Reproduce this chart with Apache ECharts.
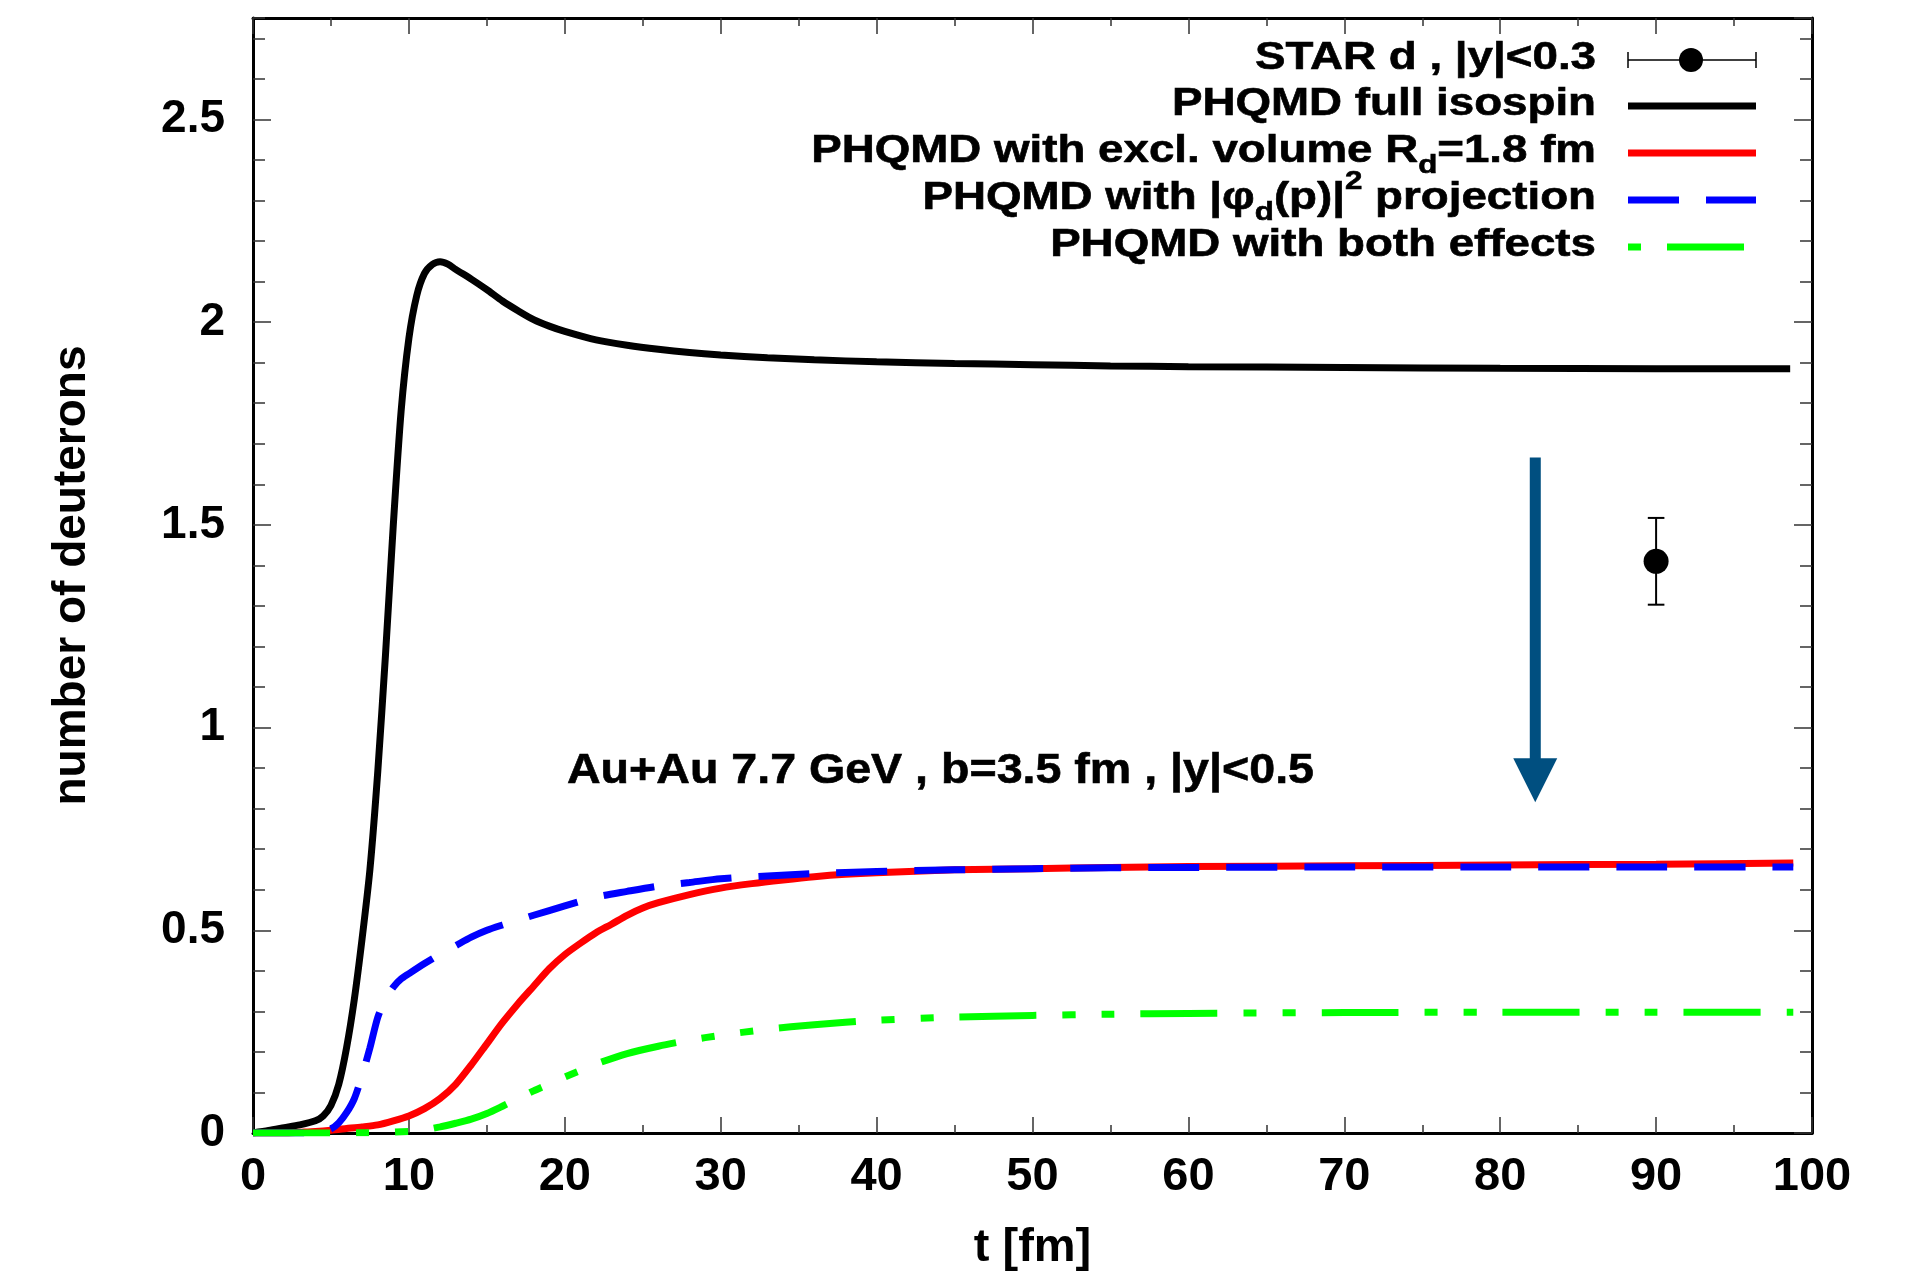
<!DOCTYPE html>
<html><head><meta charset="utf-8">
<script src="https://cdn.jsdelivr.net/npm/echarts@6/dist/echarts.min.js"></script>
<style>html,body{margin:0;padding:0;background:#fff}#c{width:1916px;height:1277px}</style>
</head><body><div id="c"></div>
<script>
const FONT = '"Liberation Sans", Arial, Helvetica, sans-serif';

// ---- data (t in fm, number of deuterons) ----
const seriesNames = ['STAR d , |y|<0.3', 'PHQMD full isospin', 'PHQMD with excl. volume R_d=1.8 fm', 'PHQMD with |φ_d(p)|^2 projection', 'PHQMD with both effects'];

const tFull = [0,1,2,3,4,4.5,5,5.5,6,6.5,7,7.5,8,8.5,9,9.5,10,10.5,11,11.5,12,12.5,13,14,15,16,17,18,19,20,22,24,26,28,30,33,36,40,45,50,55,60,70,80,90,98.6];
const vFull = [0,0.006,0.013,0.02,0.03,0.042,0.068,0.12,0.21,0.33,0.48,0.65,0.89,1.18,1.5,1.78,1.96,2.065,2.12,2.142,2.149,2.143,2.13,2.106,2.08,2.052,2.028,2.006,1.99,1.977,1.956,1.943,1.933,1.925,1.919,1.912,1.907,1.902,1.898,1.895,1.892,1.89,1.888,1.886,1.885,1.885];

const tExcl = [0,2,3,4,5,6,7,8,9,10,11,12,13,14,15,16,17,18,19,20,21,22,23,24,25,26,28,30,32,34,36,38,40,45,50,55,60,70,80,90,98.8];
const vExcl = [0,0,0.002,0.004,0.007,0.011,0.015,0.02,0.03,0.042,0.06,0.085,0.12,0.168,0.22,0.272,0.319,0.362,0.405,0.44,0.468,0.494,0.515,0.537,0.555,0.568,0.588,0.604,0.615,0.624,0.632,0.638,0.642,0.649,0.652,0.655,0.657,0.659,0.661,0.663,0.666];

const tProj = [0,1,2,3,4,4.5,5,5.5,6,6.5,7,7.5,8,8.5,9,9.5,10,11,12,13,14,15,16,17,18,20,22,24,26,28,30,33,36,40,45,50,55,60,70,80,90,98.8];
const vProj = [0,0,0,0,0.002,0.005,0.01,0.025,0.05,0.085,0.142,0.21,0.285,0.33,0.36,0.38,0.393,0.418,0.441,0.462,0.483,0.5,0.513,0.525,0.537,0.56,0.582,0.596,0.609,0.618,0.627,0.634,0.64,0.645,0.649,0.652,0.654,0.655,0.656,0.656,0.656,0.656];

const tBoth = [0,5,8,10,11,12,13,14,15,16,17,18,19,20,22,24,26,28,30,33,36,40,45,50,55,60,70,80,90,98.8];
const vBoth = [0,0,0.001,0.004,0.008,0.015,0.024,0.034,0.048,0.066,0.085,0.104,0.121,0.138,0.17,0.196,0.214,0.229,0.241,0.256,0.267,0.278,0.286,0.29,0.293,0.295,0.297,0.298,0.298,0.298];

const starT = [90];
const starV = [1.41];
const starErrLow = [1.303];
const starErrHigh = [1.517];

const annotText = 'Au+Au 7.7 GeV , b=3.5 fm , |y|<0.5';
const annotAt = [20.14, 0.892];
const arrowT = [82.25];
const arrowFrom = [1.666];
const arrowTo = [0.816];

const xMin = 0, xMax = 100, xStep = 10;
const yMin = 0, yMax = 2.75, yStep = 0.5, yMinorStep = 0.1;

function pairs(t, v) { return t.map((x, i) => [x, v[i]]); }

// ---- text measuring for legend ----
const mctx = document.createElement('canvas').getContext('2d');
function measure(text, size) { mctx.font = 'bold ' + size + 'px ' + FONT; return mctx.measureText(text).width; }

const LEG_RIGHT = 1596, LEG_FS = 38, SUB_FS = 26;
const LEG_SX = 424 / measure('PHQMD full isospin', LEG_FS);
const ANN_FS = 42;
const ANN_SX = 747 / measure(annotText, ANN_FS);
const LEG_X1 = 1628, LEG_X2 = 1756;
const legendRows = [
  { y: 60, segs: [[seriesNames[0], 'n']], kind: 'star' },
  { y: 106, segs: [['PHQMD full isospin', 'n']], color: '#000000', dash: null },
  { y: 153, segs: [['PHQMD with excl. volume R', 'n'], ['d', 'sub'], ['=1.8 fm', 'n']], color: '#ff0000', dash: null },
  { y: 200, segs: [['PHQMD with |φ', 'n'], ['d', 'sub'], ['(p)|', 'n'], ['2', 'sup'], [' projection', 'n']], color: '#0000ff', dash: [51, 27] },
  { y: 247, segs: [['PHQMD with both effects', 'n']], color: '#00ff00', dash: [13, 26, 77, 26], x2: 1744 }
];

function buildLegend() {
  const els = [];
  legendRows.forEach(row => {
    const widths = row.segs.map(s => measure(s[0], s[1] === 'n' ? LEG_FS : SUB_FS) * LEG_SX);
    let x = LEG_RIGHT - widths.reduce((a, b) => a + b, 0);
    const cy = row.y - 1;
    row.segs.forEach((s, i) => {
      const fs = s[1] === 'n' ? LEG_FS : SUB_FS;
      const dy = s[1] === 'sub' ? 14.2 : (s[1] === 'sup' ? -16.8 : 0);
      els.push({
        type: 'text', x: x, y: cy + dy, scaleX: LEG_SX, z: 100,
        style: { text: s[0], font: 'bold ' + fs + 'px ' + FONT, fill: '#000', stroke: '#000', lineWidth: 0.6,
          textAlign: 'left', align: 'left', textVerticalAlign: 'middle', verticalAlign: 'middle' }
      });
      x += widths[i];
    });
    if (row.kind === 'star') {
      els.push({ type: 'line', z: 100, shape: { x1: LEG_X1, y1: row.y, x2: LEG_X2, y2: row.y }, style: { stroke: '#000', lineWidth: 1.5 } });
      els.push({ type: 'line', z: 100, shape: { x1: LEG_X1, y1: row.y - 8, x2: LEG_X1, y2: row.y + 8 }, style: { stroke: '#000', lineWidth: 1.5 } });
      els.push({ type: 'line', z: 100, shape: { x1: LEG_X2, y1: row.y - 8, x2: LEG_X2, y2: row.y + 8 }, style: { stroke: '#000', lineWidth: 1.5 } });
      els.push({ type: 'circle', z: 101, shape: { cx: 1691, cy: row.y, r: 12 }, style: { fill: '#000' } });
    } else {
      els.push({ type: 'line', z: 100, shape: { x1: LEG_X1, y1: row.y, x2: row.x2 || LEG_X2, y2: row.y },
        style: { stroke: row.color, lineWidth: 7, lineDash: row.dash || null, lineCap: 'butt' } });
    }
  });
  return els;
}

const tickStyle = { color: '#333', width: 1.5 };
const labelFont = { fontFamily: FONT, fontWeight: 'bold', color: '#000' };

function yAx(pos, interval, len, labels, line) {
  return {
    type: 'value', position: pos, min: yMin, max: yMax, interval: interval,
    axisLine: { show: line, onZero: false, lineStyle: { color: '#000', width: 3 } },
    axisTick: { show: true, inside: true, length: len, lineStyle: tickStyle },
    splitLine: { show: false },
    axisLabel: labels ? Object.assign({ show: true, fontSize: 46, margin: 28, showMaxLabel: false,
      formatter: v => (Math.abs(v / yStep - Math.round(v / yStep)) < 1e-6 ? String(+v.toFixed(2)) : '') }, labelFont) : { show: false }
  };
}
function xAx(pos, labels) {
  return {
    type: 'value', position: pos, min: xMin, max: xMax, interval: xStep,
    axisLine: { show: true, onZero: false, lineStyle: { color: '#000', width: 3 } },
    axisTick: { show: true, inside: true, length: 16, lineStyle: tickStyle },
    minorTick: { show: true, splitNumber: 2, length: 8, lineStyle: tickStyle },
    splitLine: { show: false },
    axisLabel: labels ? Object.assign({ show: true, fontSize: 47, margin: 21 }, labelFont) : { show: false }
  };
}

const chart = echarts.init(document.getElementById('c'), null, { renderer: 'canvas' });
const xA0 = xAx('bottom', true);
xA0.name = 't [fm]'; xA0.nameLocation = 'middle'; xA0.nameGap = 92;
xA0.nameTextStyle = { fontSize: 47, fontWeight: 'bold', fontFamily: FONT, color: '#000' };
const yA0 = yAx('left', yStep, 18, true, true);
yA0.name = 'number of deuterons'; yA0.nameLocation = 'middle'; yA0.nameGap = 158; yA0.nameRotate = 90;
yA0.nameTextStyle = { fontSize: 46, fontWeight: 'bold', fontFamily: FONT, color: '#000' };

const lineBase = { type: 'line', showSymbol: false, symbol: 'none', smooth: 0.25, xAxisIndex: 0, yAxisIndex: 0, animation: false };

chart.setOption({
  animation: false,
  backgroundColor: '#ffffff',
  grid: { left: 253, right: 104, top: 18, bottom: 143, containLabel: false },
  xAxis: [xA0, xAx('top', false)],
  yAxis: [yA0, yAx('left', yMinorStep, 12, false, false), yAx('right', yStep, 18, false, true), yAx('right', yMinorStep, 12, false, false)],
  series: [
    Object.assign({}, lineBase, { name: seriesNames[1], data: pairs(tFull, vFull), lineStyle: { color: '#000000', width: 7 }, itemStyle: { color: '#000' } }),
    Object.assign({}, lineBase, { name: seriesNames[2], data: pairs(tExcl, vExcl), lineStyle: { color: '#ff0000', width: 7 }, itemStyle: { color: '#f00' } }),
    Object.assign({}, lineBase, { name: seriesNames[3], data: pairs(tProj, vProj), lineStyle: { color: '#0000ff', width: 7, type: [51, 27], cap: 'butt' }, itemStyle: { color: '#00f' } }),
    Object.assign({}, lineBase, { name: seriesNames[4], data: pairs(tBoth, vBoth), lineStyle: { color: '#00ff00', width: 7, type: [77, 26, 13, 26, 13, 26], cap: 'butt' }, itemStyle: { color: '#0f0' } }),
    {
      type: 'custom', name: seriesNames[0] + ' error', xAxisIndex: 0, yAxisIndex: 0, z: 5,
      data: starT.map((t, i) => [t, starErrLow[i], starErrHigh[i]]),
      renderItem: (params, api) => {
        const lo = api.coord([api.value(0), api.value(1)]);
        const hi = api.coord([api.value(0), api.value(2)]);
        const w = 8.3, st = { stroke: '#000', lineWidth: 2 };
        return { type: 'group', children: [
          { type: 'line', shape: { x1: lo[0], y1: lo[1], x2: hi[0], y2: hi[1] }, style: st },
          { type: 'line', shape: { x1: lo[0] - w, y1: lo[1], x2: lo[0] + w, y2: lo[1] }, style: st },
          { type: 'line', shape: { x1: hi[0] - w, y1: hi[1], x2: hi[0] + w, y2: hi[1] }, style: st }
        ] };
      }
    },
    { type: 'scatter', name: seriesNames[0], xAxisIndex: 0, yAxisIndex: 0, z: 6, symbol: 'circle', symbolSize: 25,
      itemStyle: { color: '#000', opacity: 1 }, data: pairs(starT, starV) },
    {
      type: 'custom', name: 'arrow', xAxisIndex: 0, yAxisIndex: 0, z: 4,
      data: arrowT.map((t, i) => [t, arrowFrom[i], arrowTo[i]]),
      renderItem: (params, api) => {
        const a = api.coord([api.value(0), api.value(1)]);
        const b = api.coord([api.value(0), api.value(2)]);
        const hh = 44, hw = 22, sw = 5.5, col = '#004f80';
        return { type: 'group', children: [
          { type: 'rect', shape: { x: a[0] - sw, y: a[1], width: sw * 2, height: b[1] - hh - a[1] + 1 }, style: { fill: col } },
          { type: 'polygon', shape: { points: [[b[0] - hw, b[1] - hh], [b[0] + hw, b[1] - hh], [b[0], b[1]]] }, style: { fill: col } }
        ] };
      }
    },
    {
      type: 'custom', name: 'annotation', xAxisIndex: 0, yAxisIndex: 0, z: 7,
      data: [annotAt],
      renderItem: (params, api) => {
        const p = api.coord([api.value(0), api.value(1)]);
        return { type: 'text', x: p[0], y: p[1], scaleX: ANN_SX,
          style: { text: annotText, font: 'bold ' + ANN_FS + 'px ' + FONT, fill: '#000', stroke: '#000', lineWidth: 0.6,
            textAlign: 'left', align: 'left', textVerticalAlign: 'middle', verticalAlign: 'middle' } };
      }
    }
  ],
  graphic: buildLegend()
});
</script>
</body></html>
